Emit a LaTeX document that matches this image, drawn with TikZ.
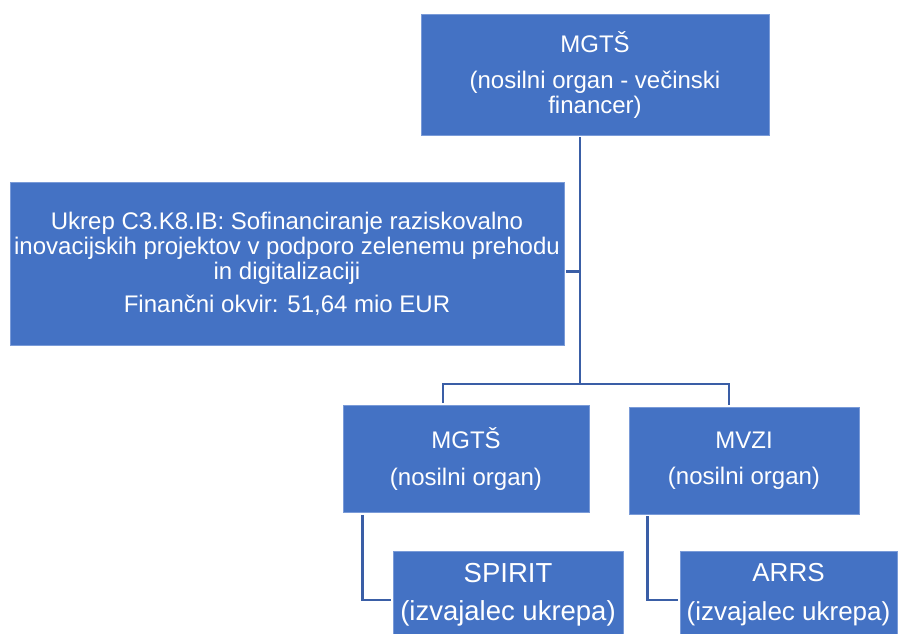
\documentclass[tikz,border=0pt]{standalone}
\usepackage{fontspec}
\setmainfont{Liberation Sans}
\usepackage{tikz}
\usetikzlibrary{positioning,calc}
\definecolor{boxblue}{HTML}{4472C4}
\definecolor{edgeblue}{HTML}{7A9BD8}
\definecolor{lineblue}{HTML}{3A5EA6}
\tikzset{
  basic/.style  = {draw=edgeblue, fill=boxblue, line width=0.8pt, text=white,
                   font=\fontsize{24}{24.5}\selectfont, rectangle, align=center,
                   inner sep=0pt},
  top box/.style  = {basic, minimum width=348pt, minimum height=121pt},
  wide box/.style = {basic, minimum width=554pt, minimum height=163pt,
                     font=\fontsize{24}{25}\selectfont},
  mid box/.style  = {basic, minimum width=#1, minimum height=107pt},
  leaf box/.style = {basic, minimum width=#1, minimum height=86pt},
  link/.style = {draw=lineblue, line width=2.8pt, shorten <=2pt, shorten >=2pt}
}

\begin{document}
\begin{tikzpicture}[x=1pt,y=-1pt]
\useasboundingbox (0,0) rectangle (898,633);

% the top of the tree
\node[top box] (mgtsTop) at (595,74.5)
  {MGTŠ\\[12pt](nosilni organ - večinski\\financer)};

% the measure, hanging off the trunk on the left
\node[wide box] (ukrep) at (287,263.5)
  {Ukrep C3.K8.IB: Sofinanciranje raziskovalno\\inovacijskih projektov v podporo zelenemu prehodu\\in digitalizaciji\\[8pt]Finančni okvir: 51,64 mio EUR};

% the second level
\node[mid box=246pt] (mgts) at (466,459) {MGTŠ\\[12pt](nosilni organ)};
\node[mid box=230pt] (mvzi) at (744,460.5) {MVZI\\[12pt](nosilni organ)};

% the third level, one below each of the second level
\node[leaf box=230pt, font=\fontsize{27.5}{27.5}\selectfont] (spirit) at (508,594.5)
  {SPIRIT\\[11pt](izvajalec ukrepa)};
\node[leaf box=217pt, font=\fontsize{26}{26}\selectfont] (arrs) at (788.5,594.5)
  {ARRS\\[13pt](izvajalec ukrepa)};

% trunk and bus
\coordinate (bus) at (580,384);
\coordinate (ukrepEnd) at ([yshift=-8pt]ukrep.east);
\draw[link, shorten >=0pt] (mgtsTop.south -| bus) -- (bus);
\draw[link, shorten <=0pt] (ukrepEnd -| bus) -- (ukrepEnd);
\draw[link] ([xshift=-23pt]mgts.north) |- (bus) -| ([xshift=-15pt]mvzi.north);

% lines from each second level node down to its child
\draw[link] ([xshift=20pt]mgts.south west) |- ([yshift=-5.5pt]spirit.west);
\draw[link] ([xshift=19pt]mvzi.south west) |- ([yshift=-5.5pt]arrs.west);
\end{tikzpicture}
\end{document}
